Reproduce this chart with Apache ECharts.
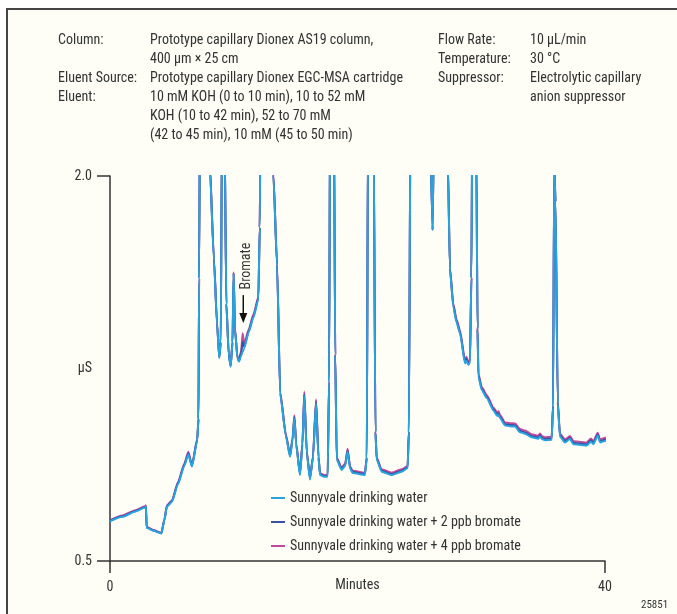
<!DOCTYPE html>
<html>
<head>
<meta charset="utf-8">
<script src="https://cdn.jsdelivr.net/npm/echarts@6/dist/echarts.min.js"></script>
<style>
html, body { margin: 0; background: #fff; }
#chart { width: 677px; height: 614px; }
</style>
</head>
<body>
<div id="chart"></div>
<script>
// retention time, minutes
var minutes = [
    0.0, 1.0, 2.0, 2.85, 2.9, 2.96, 3.5, 4.15, 4.4, 4.6,
    5.0, 5.5, 6.0, 6.33, 6.62, 7.05, 7.15, 7.2, 7.3, 7.7,
    8.05, 8.4, 8.65, 8.83, 8.95, 9.05, 9.15, 9.25, 9.4, 9.6,
    9.75, 9.9, 9.99, 10.1, 10.3, 10.42, 10.6, 10.72, 10.85, 11.2,
    11.6, 11.99, 12.1, 12.2, 12.6, 13.0, 13.2, 13.5, 13.75, 14.22,
    14.55, 14.75, 14.9, 15.05, 15.35, 15.55, 15.7, 15.9, 16.16, 16.4,
    16.65, 16.85, 16.97, 17.3, 17.59, 17.7, 17.8, 17.95, 18.1, 18.2,
    18.32, 18.72, 19.0, 19.2, 19.4, 19.6, 20.6, 20.75, 20.85, 21.1,
    21.3, 21.45, 21.55, 21.95, 22.76, 23.57, 24.05, 24.15, 24.3, 25.0,
    25.8, 26.07, 26.2, 26.8, 27.3, 27.47, 27.74, 28.0, 28.28, 28.69,
    28.8, 28.95, 29.09, 29.2, 29.3, 29.45, 29.6, 29.7, 29.77, 30.04,
    30.44, 31.0, 31.3, 31.4, 31.5, 31.92, 32.3, 32.73, 33.13, 33.54,
    34.07, 34.6, 34.75, 34.9, 35.15, 35.69, 35.8, 35.9, 36.0, 36.18,
    36.36, 36.77, 37.17, 37.44, 38.0, 38.52, 38.87, 39.06, 39.41, 39.6,
    40.0, 40.3
];
// conductivity, µS (values above 2.0 are off scale)
var water = [
    0.655, 0.672, 0.692, 0.708, 0.712, 0.630, 0.618, 0.607, 0.660, 0.712,
    0.730, 0.800, 0.870, 0.915, 0.868, 0.968, 1.050, 1.600, 2.600, 2.800,
    2.050, 1.670, 1.420, 1.290, 1.350, 2.200, 2.600, 2.200, 1.500, 1.300,
    1.257, 1.350, 1.620, 1.400, 1.290, 1.276, 1.300, 1.315, 1.330, 1.390,
    1.450, 1.520, 1.800, 2.500, 3.000, 2.500, 2.000, 1.650, 1.150, 0.984,
    0.906, 0.970, 1.056, 0.950, 0.835, 0.950, 1.143, 0.920, 0.818, 0.900,
    1.114, 0.900, 0.835, 0.828, 0.828, 1.200, 2.400, 2.600, 2.200, 1.300,
    0.894, 0.855, 0.870, 0.926, 0.860, 0.843, 0.835, 0.900, 2.200, 2.600,
    2.200, 1.000, 0.894, 0.848, 0.835, 0.848, 0.861, 1.000, 2.400, 2.800,
    2.300, 1.790, 2.300, 2.600, 2.050, 1.634, 1.491, 1.430, 1.387, 1.270,
    1.280, 1.265, 1.270, 1.600, 2.400, 2.600, 2.100, 1.400, 1.218, 1.166,
    1.135, 1.085, 1.065, 1.070, 1.058, 1.028, 1.025, 1.024, 1.002, 0.996,
    0.982, 0.976, 0.985, 0.975, 0.970, 0.972, 1.100, 2.050, 1.900, 1.114,
    0.984, 0.962, 0.975, 0.955, 0.952, 0.950, 0.965, 0.955, 0.988, 0.962,
    0.968, 0.970
];
var water2ppb = [
    0.657, 0.674, 0.694, 0.710, 0.714, 0.631, 0.619, 0.608, 0.662, 0.714,
    0.733, 0.804, 0.874, 0.920, 0.871, 0.972, 1.053, 1.600, 2.600, 2.800,
    2.055, 1.675, 1.424, 1.293, 1.352, 2.200, 2.600, 2.200, 1.502, 1.302,
    1.259, 1.352, 1.622, 1.402, 1.292, 1.279, 1.310, 1.354, 1.335, 1.394,
    1.455, 1.525, 1.800, 2.500, 3.000, 2.500, 2.005, 1.654, 1.154, 0.988,
    0.909, 0.974, 1.062, 0.953, 0.838, 0.955, 1.150, 0.924, 0.821, 0.904,
    1.121, 0.904, 0.838, 0.831, 0.831, 1.200, 2.400, 2.600, 2.200, 1.303,
    0.898, 0.859, 0.874, 0.931, 0.864, 0.847, 0.839, 0.903, 2.200, 2.600,
    2.200, 1.003, 0.898, 0.852, 0.839, 0.852, 0.865, 1.003, 2.400, 2.800,
    2.300, 1.790, 2.300, 2.600, 2.055, 1.638, 1.496, 1.435, 1.392, 1.275,
    1.287, 1.270, 1.275, 1.603, 2.400, 2.600, 2.100, 1.405, 1.223, 1.171,
    1.140, 1.090, 1.070, 1.075, 1.063, 1.033, 1.030, 1.029, 1.007, 1.001,
    0.987, 0.981, 0.990, 0.980, 0.975, 0.977, 1.103, 2.050, 1.900, 1.118,
    0.989, 0.967, 0.980, 0.960, 0.957, 0.955, 0.970, 0.960, 0.993, 0.967,
    0.973, 0.975
];
var water4ppb = [
    0.659, 0.677, 0.697, 0.713, 0.717, 0.633, 0.621, 0.610, 0.664, 0.717,
    0.736, 0.808, 0.879, 0.926, 0.874, 0.976, 1.056, 1.600, 2.600, 2.800,
    2.060, 1.680, 1.428, 1.296, 1.355, 2.200, 2.600, 2.200, 1.505, 1.305,
    1.262, 1.355, 1.625, 1.405, 1.295, 1.283, 1.320, 1.387, 1.345, 1.402,
    1.462, 1.530, 1.800, 2.500, 3.000, 2.500, 2.010, 1.658, 1.158, 0.992,
    0.913, 0.978, 1.068, 0.957, 0.842, 0.960, 1.160, 0.928, 0.825, 0.908,
    1.130, 0.908, 0.842, 0.835, 0.835, 1.200, 2.400, 2.600, 2.200, 1.306,
    0.903, 0.864, 0.879, 0.937, 0.869, 0.852, 0.844, 0.906, 2.200, 2.600,
    2.200, 1.006, 0.903, 0.857, 0.844, 0.857, 0.870, 1.006, 2.400, 2.800,
    2.300, 1.790, 2.300, 2.600, 2.060, 1.643, 1.502, 1.442, 1.399, 1.282,
    1.296, 1.277, 1.282, 1.606, 2.400, 2.600, 2.100, 1.412, 1.230, 1.178,
    1.147, 1.097, 1.077, 1.083, 1.070, 1.040, 1.037, 1.036, 1.014, 1.008,
    0.994, 0.988, 0.997, 0.987, 0.982, 0.984, 1.106, 2.050, 1.900, 1.124,
    0.996, 0.974, 0.987, 0.967, 0.964, 0.962, 0.977, 0.967, 1.000, 0.974,
    0.980, 0.982
];
var seriesNames = [
    'Sunnyvale drinking water',
    'Sunnyvale drinking water + 2 ppb bromate',
    'Sunnyvale drinking water + 4 ppb bromate'
];
var xTicks = [0, 40];
var yTicks = [0.5, 2.0];

// conditions block
var condLabels = ['Column:', '', 'Eluent Source:', 'Eluent:', '', ''];
var condValues = [
    'Prototype capillary Dionex AS19 column,',
    '400 µm × 25 cm',
    'Prototype capillary Dionex EGC-MSA cartridge',
    '10 mM KOH (0 to 10 min), 10 to 52 mM',
    'KOH (10 to 42 min), 52 to 70 mM',
    '(42 to 45 min), 10 mM (45 to 50 min)'
];
var condLabels2 = ['Flow Rate:', 'Temperature:', 'Suppressor:', ''];
var condValues2 = ['10 µL/min', '30 °C', 'Electrolytic capillary', 'anion suppressor'];

var FONT = '"Liberation Sans Narrow", "Roboto Condensed", sans-serif';
var TXT = '#333';
var colors = ['#29a3dd', '#3b4fa3', '#c24a9c'];

function pairs(vals) {
    return minutes.map(function (m, i) { return [m, vals[i]]; });
}

var chart = echarts.init(document.getElementById('chart'));

var option = {
    backgroundColor: '#fff',
    animation: false,
    grid: { left: 110, right: 72, top: 176, bottom: 53, containLabel: false },
    legend: {
        data: seriesNames,
        orient: 'vertical',
        left: 266,
        top: 486,
        icon: 'rect',
        itemWidth: 14,
        itemHeight: 2,
        itemGap: 10,
        textStyle: { fontFamily: FONT, fontSize: 14, color: TXT }
    },
    xAxis: {
        type: 'value',
        min: 0,
        max: 40,
        name: 'Minutes',
        nameLocation: 'middle',
        nameGap: 17,
        nameMoveOverlap: false,
        nameTextStyle: { fontFamily: FONT, fontSize: 14, color: TXT, verticalAlign: 'top' },
        axisLine: { onZero: false, lineStyle: { color: '#333', width: 1.5 } },
        axisTick: { length: 12, customValues: xTicks, lineStyle: { color: '#333', width: 1.5 } },
        axisLabel: { customValues: xTicks, margin: 19, fontFamily: FONT, fontSize: 14, color: TXT },
        splitLine: { show: false }
    },
    yAxis: {
        type: 'value',
        min: 0.5,
        max: 2.0,
        name: 'µS',
        nameLocation: 'middle',
        nameRotate: 0,
        nameGap: 18,
        nameMoveOverlap: false,
        nameTextStyle: { fontFamily: FONT, fontSize: 14, color: TXT },
        axisLine: { show: true, onZero: false, lineStyle: { color: '#333', width: 1.5 } },
        axisTick: { show: true, length: 13, customValues: yTicks, lineStyle: { color: '#333', width: 1.5 } },
        axisLabel: {
            customValues: yTicks, margin: 18, fontFamily: FONT, fontSize: 14, color: TXT,
            formatter: function (v) { return v.toFixed(1); }
        },
        splitLine: { show: false }
    },
    series: [
        { name: seriesNames[2], type: 'line', data: pairs(water4ppb), z: 2 },
        { name: seriesNames[1], type: 'line', data: pairs(water2ppb), z: 3 },
        { name: seriesNames[0], type: 'line', data: pairs(water), z: 4 }
    ].map(function (s) {
        var c = s.name === seriesNames[0] ? colors[0] : (s.name === seriesNames[1] ? colors[1] : colors[2]);
        s.symbol = 'none';
        s.showSymbol = false;
        s.clip = true;
        s.smooth = 0.2;
        s.smoothMonotone = 'x';
        s.lineStyle = { color: c, width: 2, join: 'round' };
        s.itemStyle = { color: c };
        return s;
    })
};
chart.setOption(option);

// frame, conditions text, bromate annotation
var g = [{
    type: 'rect', z: -10, silent: true,
    shape: { x: 7, y: 9, width: 720, height: 660 },
    style: { fill: '#fefef6', stroke: '#444', lineWidth: 2 }
}];
function addText(txt, x, y, size, extra) {
    var st = { text: txt, x: x, y: y, font: (size || 14) + 'px ' + FONT, fill: TXT, verticalAlign: 'middle' };
    for (var k in extra) st[k] = extra[k];
    g.push({ type: 'text', z: 10, style: st });
}
condLabels.forEach(function (t, i) { if (t) addText(t, 58, 40 + i * 19); });
condValues.forEach(function (t, i) { addText(t, 150, 40 + i * 19); });
condLabels2.forEach(function (t, i) { if (t) addText(t, 438, 40 + i * 19); });
condValues2.forEach(function (t, i) { addText(t, 530, 40 + i * 19); });
addText('25851', 641, 605, 11);

var arrowTop = chart.convertToPixel({ gridIndex: 0 }, [10.77, 1.536]);
var arrowBot = chart.convertToPixel({ gridIndex: 0 }, [10.77, 1.427]);
var labelPos = chart.convertToPixel({ gridIndex: 0 }, [11.07, 1.649]);
g.push({
    type: 'line', z: 10,
    shape: { x1: arrowTop[0], y1: arrowTop[1], x2: arrowBot[0], y2: arrowBot[1] - 8 },
    style: { stroke: '#111', lineWidth: 1.5 }
});
g.push({
    type: 'polygon', z: 10,
    shape: { points: [[arrowBot[0] - 4, arrowBot[1] - 10], [arrowBot[0] + 4, arrowBot[1] - 10], [arrowBot[0], arrowBot[1]]] },
    style: { fill: '#111' }
});
g.push({
    type: 'text', z: 10, x: labelPos[0], y: labelPos[1], rotation: Math.PI / 2,
    style: { text: 'Bromate', x: 0, y: 0, font: '14px ' + FONT, fill: TXT, align: 'center', verticalAlign: 'middle' }
});
chart.setOption({ graphic: g });
</script>
</body>
</html>
